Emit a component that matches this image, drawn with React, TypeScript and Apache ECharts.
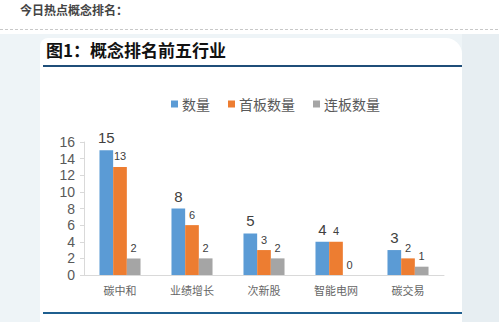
import React, { useEffect, useRef } from "react";
import * as echarts from "echarts";

const categories = ["碳中和", "业绩增长", "次新股", "智能电网", "碳交易"];
const countValues = [15, 8, 5, 4, 3];
const firstBoardValues = [13, 6, 3, 4, 2];
const consecutiveValues = [2, 2, 2, 0, 1];
const seriesNames = ["数量", "首板数量", "连板数量"];
const yTicks = { min: 0, max: 16, interval: 2 };

export default function App() {
  const ref = useRef<HTMLDivElement>(null);
  useEffect(() => {
    if (!ref.current) return;
    const chart = echarts.init(ref.current, undefined, { renderer: "svg" });
    const font = "'Liberation Sans', Arial, 'Noto Sans CJK SC', sans-serif";
    const bigLabel = { show: true, position: "top", distance: 5, fontSize: 15, color: "#404040", fontFamily: font };
    const smallLabel = { show: true, position: "top", distance: 5, fontSize: 11, color: "#404040", fontFamily: font };
    chart.setOption({
      animation: false,
      backgroundColor: "#ffffff",
      graphic: [
        { type: "rect", z: -10, shape: { x: 0, y: 34, width: 499, height: 288 }, style: { fill: "#eef4f7" } },
        { type: "rect", z: -10, shape: { x: 462, y: 34, width: 37, height: 288 }, style: { fill: "#e7eef2" } },
        { type: "rect", z: -9, shape: { x: 40, y: 38, width: 422, height: 300, r: [8, 16, 0, 0] }, style: { fill: "#ffffff" } },
        { type: "line", z: -8, shape: { x1: 0, y1: 29.5, x2: 499, y2: 29.5 }, style: { stroke: "#c8c8c8", lineWidth: 1, lineDash: [3, 2] } },
        { type: "text", left: 20, top: 3, style: { text: "今日热点概念排名：", fontSize: 12, fontWeight: "bold", fill: "#444444", fontFamily: "'Noto Sans CJK SC', sans-serif" } },
        { type: "text", left: 46, top: 41, style: { text: "图1：概念排名前五行业", fontSize: 17, fontWeight: "bold", fill: "#111111", fontFamily: "'Noto Sans CJK SC', sans-serif" } },
        { type: "line", shape: { x1: 43, y1: 66, x2: 462, y2: 66 }, style: { stroke: "#1f4e79", lineWidth: 2 } },
        { type: "line", shape: { x1: 43, y1: 313, x2: 462, y2: 313 }, style: { stroke: "#1f5f8f", lineWidth: 2 } },
      ],
      legend: {
        data: seriesNames,
        top: 92,
        left: 166,
        icon: "rect",
        itemWidth: 7,
        itemHeight: 7,
        itemGap: 18,
        textStyle: { fontSize: 14, color: "#595959", fontFamily: "'Noto Sans CJK SC', sans-serif", padding: [0, 0, 0, -1] },
      },
      grid: { left: 84, right: 55, top: 142, bottom: 47 },
      xAxis: {
        type: "category",
        data: categories,
        axisLine: { show: true, lineStyle: { color: "#d9d9d9" } },
        axisTick: { show: false },
        axisLabel: { fontSize: 11, color: "#666666", margin: 9, fontFamily: "'Noto Sans CJK SC', sans-serif" },
      },
      yAxis: {
        type: "value",
        min: yTicks.min,
        max: yTicks.max,
        interval: yTicks.interval,
        axisLine: { show: true, lineStyle: { color: "#d9d9d9" } },
        axisTick: { show: true, length: 4, lineStyle: { color: "#d9d9d9" } },
        splitLine: { show: false },
        axisLabel: { fontSize: 14, color: "#595959", margin: 9, fontFamily: font },
      },
      series: [
        { name: seriesNames[0], type: "bar", data: countValues, itemStyle: { color: "#5b9bd5" }, barGap: "0%", barCategoryGap: "43%", label: bigLabel },
        { name: seriesNames[1], type: "bar", data: firstBoardValues, itemStyle: { color: "#ed7d31" }, label: smallLabel },
        { name: seriesNames[2], type: "bar", data: consecutiveValues, itemStyle: { color: "#a5a5a5" }, label: smallLabel },
      ],
    });
    return () => chart.dispose();
  }, []);
  return <div ref={ref} style={{ position: "fixed", left: 0, top: 0, width: 499, height: 322 }} />;
}
